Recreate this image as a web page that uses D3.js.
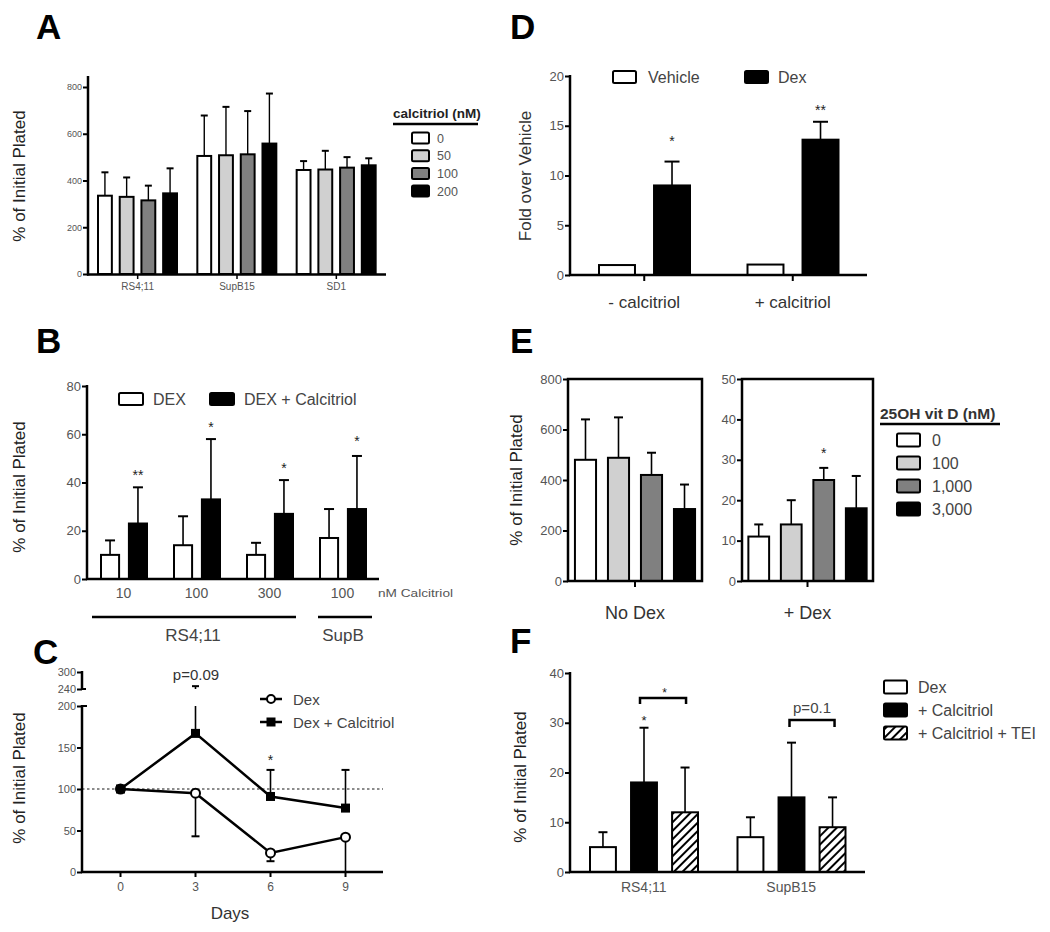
<!DOCTYPE html>
<html><head><meta charset="utf-8">
<script src="https://cdn.jsdelivr.net/npm/d3@7"></script>
<style>
body{margin:0;background:#fff}
svg text{font-family:"Liberation Sans",Arial,sans-serif}
</style></head><body>
<svg id="fig" width="1050" height="932"></svg>
<script>
// ---------- DATA ----------
// Panel A
const aGroups = ["RS4;11", "SupB15", "SD1"];
const aSeries = ["0", "50", "100", "200"];
const aMeans = [[335, 330, 315, 345], [505, 508, 512, 558], [445, 447, 455, 465]];
const aUpper = [[435, 413, 378, 452], [678, 715, 697, 772], [483, 527, 500, 495]];
const aTicks = [0, 200, 400, 600, 800];
// Panel B
const bGroups = ["10", "100", "300", "100"];
const bSeries = ["DEX", "DEX + Calcitriol"];
const bDex = [10, 14, 10, 17];
const bDexUpper = [16, 26, 15, 29];
const bCal = [23, 33, 27, 29];
const bCalUpper = [38, 58, 41, 51];
const bStars = ["**", "*", "*", "*"];
const bStarAt = [44.5, 64.5, 47.5, 58.5];
const bTicks = [0, 20, 40, 60, 80];
// Panel C
const cDays = [0, 3, 6, 9];
const cDex = [100, 95, 23, 42];
const cDexLower = [100, 43, 13, 0];
const cCal = [100, 167, 91, 77];
const cCalUpper = [100, 250, 123, 123];
const cTicksLow = [0, 50, 100, 150, 200];
const cTicksHigh = [240, 300];
// Panel D
const dGroups = ["- calcitriol", "+ calcitriol"];
const dSeries = ["Vehicle", "Dex"];
const dVehicle = [1.0, 1.05];
const dDex = [9.0, 13.6];
const dDexUpper = [11.4, 15.4];
const dStars = ["*", "**"];
const dStarAt = [13.8, 16.9];
const dTicks = [0, 5, 10, 15, 20];
// Panel E
const eSeries = ["0", "100", "1,000", "3,000"];
const eNoDex = [480, 488, 420, 285];
const eNoDexUpper = [640, 648, 508, 382];
const eDex = [11, 14, 25, 18];
const eDexUpper = [14, 20, 28, 26];
const eTicksL = [0, 200, 400, 600, 800];
const eTicksR = [0, 10, 20, 30, 40, 50];
// Panel F
const fGroups = ["RS4;11", "SupB15"];
const fSeries = ["Dex", "+ Calcitriol", "+ Calcitriol + TEI"];
const fMeans = [[5, 18, 12], [7, 15, 9]];
const fUpper = [[8, 29, 21], [11, 26, 15]];
const fTicks = [0, 10, 20, 30, 40];

// ---------- STYLE ----------
const TICKC = "#555";
const TXT = "#222";
const grayFills = ["#ffffff", "#d0d0d0", "#808080", "#000000"];
const svg = d3.select("#fig");
const defs = svg.append("defs");
const pat = defs.append("pattern").attr("id", "hatch").attr("patternUnits", "userSpaceOnUse")
  .attr("width", 6).attr("height", 6).attr("patternTransform", "rotate(45)");
pat.append("rect").attr("width", 6).attr("height", 6).attr("fill", "#fff");
pat.append("line").attr("x1", 1).attr("y1", 0).attr("x2", 1).attr("y2", 6).attr("stroke", "#000").attr("stroke-width", 2);
const fFills = ["#ffffff", "#000000", "url(#hatch)"];

// ---------- HELPERS ----------
function line(x1, y1, x2, y2, w = 2.5, color = "#000") {
  return svg.append("line").attr("x1", x1).attr("y1", y1).attr("x2", x2).attr("y2", y2)
    .attr("stroke", color).attr("stroke-width", w);
}
function text(x, y, s, fs, opts = {}) {
  const t = svg.append("text").attr("x", x).attr("y", y).text(s).attr("font-size", fs)
    .attr("fill", opts.fill || TXT).attr("text-anchor", opts.anchor || "start");
  if (opts.bold) t.attr("font-weight", "bold");
  if (opts.rotate) t.attr("transform", `rotate(-90,${x},${y})`);
  if (opts.len) t.attr("textLength", opts.len).attr("lengthAdjust", "spacingAndGlyphs");
  return t;
}
function leftAxis(scale, x, ticks, fs, fmt) {
  const ax = d3.axisLeft(scale).tickValues(ticks).tickSize(5).tickSizeOuter(0).tickPadding(1);
  if (fmt) ax.tickFormat(fmt);
  const g = svg.append("g").attr("transform", `translate(${x},0)`).call(ax);
  g.select(".domain").remove();
  g.selectAll(".tick line").attr("stroke", "#000").attr("stroke-width", 2);
  g.selectAll(".tick text").attr("font-size", fs).attr("fill", TICKC)
    .attr("font-family", '"Liberation Sans",Arial,sans-serif');
  return g;
}
function bar(x, w, yScale, v, fill) {
  const y0 = yScale(0), y1 = yScale(v);
  svg.append("rect").attr("x", x + 1).attr("y", y1).attr("width", w - 2).attr("height", Math.max(0, y0 - y1))
    .attr("fill", fill).attr("stroke", "#000").attr("stroke-width", 2);
}
function errBar(cx, yFrom, yTo, capW, w = 1.6) {
  line(cx, yFrom, cx, yTo, w);
  line(cx - capW / 2, yTo, cx + capW / 2, yTo, 2);
}
function star(cx, yCenter, s, fs) {
  text(cx, yCenter + fs * 0.58, s, fs, { anchor: "middle" });
}
function legendBox(x, cy, w, h, fill) {
  svg.append("rect").attr("x", x).attr("y", cy - h / 2).attr("width", w).attr("height", h)
    .attr("rx", 1.5).attr("fill", fill).attr("stroke", "#000").attr("stroke-width", 2);
}

// ---------- PANEL LETTERS ----------
[["A", 36, 39], ["B", 36, 353], ["C", 33, 664], ["D", 510, 39], ["E", 510, 353], ["F", 510, 653]]
  .forEach(([l, x, y]) => text(x, y, l, 35, { bold: true, fill: "#000" }));

// ---------- PANEL A ----------
{
  const x = d3.scaleBand().domain(aGroups).range([88, 386]);
  const xi = d3.scaleBand().domain(aSeries).range([9, 90]).paddingInner(0.27);
  const y = d3.scaleLinear().domain([0, 800]).range([274, 87]);
  aGroups.forEach((g, i) => aSeries.forEach((s, j) => {
    const bx = x(g) + xi(s), bw = xi.bandwidth();
    errBar(bx + bw / 2, y(aMeans[i][j]), y(aUpper[i][j]), 7, 1.4);
    bar(bx, bw, y, aMeans[i][j], grayFills[j]);
  }));
  leftAxis(y, 88, aTicks, 9);
  line(88, 76, 88, 275.5, 2.5);
  line(87, 274.5, 386, 274.5, 2.5);
  aGroups.forEach(g => {
    const cx = x(g) + x.bandwidth() / 2;
    line(cx, 274.5, cx, 279, 1.5);
    text(cx, 290, g, 10, { anchor: "middle", fill: TICKC });
  });
  text(25, 176, "% of Initial Plated", 17, { anchor: "middle", rotate: true });
  text(393, 118, "calcitriol (nM)", 13.5, { bold: true });
  line(393, 124, 478, 124, 2.5);
  aSeries.forEach((s, j) => {
    const cy = 138 + j * 17.7;
    legendBox(412, cy, 17, 11, grayFills[j]);
    text(437, cy + 4.5, s, 12.5, { fill: TICKC });
  });
}

// ---------- PANEL B ----------
{
  const x = d3.scaleBand().domain(d3.range(bGroups.length)).range([87, 379]);
  const xi = d3.scaleBand().domain(bSeries).range([13, 61]).paddingInner(0.28);
  const y = d3.scaleLinear().domain([0, 80]).range([579, 386]);
  bGroups.forEach((g, i) => {
    const bw = xi.bandwidth();
    const x0 = x(i) + xi(bSeries[0]), x1 = x(i) + xi(bSeries[1]);
    errBar(x0 + bw / 2, y(bDex[i]), y(bDexUpper[i]), 10);
    bar(x0, bw, y, bDex[i], "#fff");
    errBar(x1 + bw / 2, y(bCal[i]), y(bCalUpper[i]), 10);
    bar(x1, bw, y, bCal[i], "#000");
    star(x1 + bw / 2, y(bStarAt[i]), bStars[i], 14);
    text(x(i) + x.bandwidth() / 2, 598, g, 14, { anchor: "middle", fill: TICKC });
  });
  leftAxis(y, 87, bTicks, 13);
  line(87, 385, 87, 580, 2.5);
  line(86, 579, 379, 579, 2.5);
  text(378, 597, "nM Calcitriol", 11.5, { fill: TICKC, len: 75 });
  line(92, 617, 296, 617, 2.5);
  line(318, 617, 372, 617, 2.5);
  text(193, 641, "RS4;11", 17, { anchor: "middle", fill: "#444" });
  text(343, 641, "SupB", 17, { anchor: "middle", fill: "#444" });
  text(25, 487, "% of Initial Plated", 17, { anchor: "middle", rotate: true });
  legendBox(119, 399, 24, 12, "#fff");
  text(153, 405, bSeries[0], 16, { fill: "#444" });
  legendBox(210, 399, 24, 12, "#000");
  text(244, 405, bSeries[1], 16, { fill: "#444" });
}

// ---------- PANEL C ----------
{
  const x = d3.scaleLinear().domain([-1.5, 10.5]).range([83, 383]);
  const y = d3.scaleLinear().domain([0, 200]).range([872, 706]);
  const yu = d3.scaleLinear().domain([240, 300]).range([689, 672]);
  const yy = v => v > 200 ? yu(Math.max(240, v)) : y(v);
  // reference line at 100
  line(82, y(100), 383, y(100), 1.6, "#666").attr("stroke-dasharray", "2.5,2.5");
  // lines
  const lg = d3.line().x((d, i) => x(cDays[i])).y(d => yy(d));
  svg.append("path").attr("d", lg(cDex)).attr("fill", "none").attr("stroke", "#000").attr("stroke-width", 2.5);
  svg.append("path").attr("d", lg(cCal)).attr("fill", "none").attr("stroke", "#000").attr("stroke-width", 2.5);
  // error bars
  cDays.forEach((d, i) => {
    const cx = x(d);
    if (cDexLower[i] < cDex[i]) errBar(cx, y(cDex[i]), y(cDexLower[i]), 8);
    if (cCalUpper[i] > cCal[i]) {
      if (cCalUpper[i] > 200) {
        line(cx, y(cCal[i]), cx, y(200), 1.6);
        errBar(cx, yu(240), yu(cCalUpper[i]), 7);
      } else errBar(cx, y(cCal[i]), y(cCalUpper[i]), 8);
    }
  });
  // markers
  cDays.forEach((d, i) => {
    svg.append("circle").attr("cx", x(d)).attr("cy", yy(cDex[i])).attr("r", 4.5)
      .attr("fill", "#fff").attr("stroke", "#000").attr("stroke-width", 2);
  });
  cDays.forEach((d, i) => {
    svg.append("rect").attr("x", x(d) - 4.5).attr("y", yy(cCal[i]) - 4.5).attr("width", 9).attr("height", 9).attr("fill", "#000");
  });
  // axes
  leftAxis(y, 82, cTicksLow, 11);
  leftAxis(yu, 82, cTicksHigh, 11);
  line(82, 705, 82, 873, 2.5);
  line(82, 671, 82, 690, 2.5);
  line(82, 689, 86, 689, 2);
  line(82, 706, 87, 706, 2);
  line(81, 872, 383, 872, 2.5);
  cDays.forEach(d => {
    line(x(d), 872, x(d), 877, 2);
    text(x(d), 891, d, 12, { anchor: "middle", fill: TICKC });
  });
  text(230, 919, "Days", 17, { anchor: "middle", fill: "#333" });
  text(25, 778, "% of Initial Plated", 17, { anchor: "middle", rotate: true });
  text(196, 680, "p=0.09", 15, { anchor: "middle", fill: "#333" });
  star(x(6), 757, "*", 14);
  // legend
  line(260, 699, 282, 699, 2.5);
  svg.append("circle").attr("cx", 271).attr("cy", 699).attr("r", 4).attr("fill", "#fff").attr("stroke", "#000").attr("stroke-width", 2);
  text(293, 705, "Dex", 15, { fill: "#444" });
  line(260, 722, 282, 722, 2.5);
  svg.append("rect").attr("x", 266.5).attr("y", 717.5).attr("width", 9).attr("height", 9).attr("fill", "#000");
  text(293, 728, "Dex + Calcitriol", 15, { fill: "#444" });
}

// ---------- PANEL D ----------
{
  const x = d3.scaleBand().domain(dGroups).range([570, 867]);
  const xi = d3.scaleBand().domain(dSeries).range([28, 121]).paddingInner(0.31);
  const y = d3.scaleLinear().domain([0, 20]).range([275, 76]);
  dGroups.forEach((g, i) => {
    const bw = xi.bandwidth();
    const x0 = x(g) + xi(dSeries[0]), x1 = x(g) + xi(dSeries[1]);
    bar(x0, bw, y, dVehicle[i], "#fff");
    errBar(x1 + bw / 2, y(dDex[i]), y(dDexUpper[i]), 15);
    bar(x1, bw, y, dDex[i], "#000");
    star(x1 + bw / 2, y(dStarAt[i]), dStars[i], 14);
    const cx = x(g) + x.bandwidth() / 2;
    line(cx, 275, cx, 281, 2);
    text(cx, 308, g, 17, { anchor: "middle", fill: "#333" });
  });
  leftAxis(y, 570, dTicks, 13);
  line(570, 75, 570, 276, 2.5);
  line(569, 275, 867, 275, 2.5);
  text(531, 176, "Fold over Vehicle", 17, { anchor: "middle", rotate: true, fill: "#333" });
  legendBox(613, 77, 23, 12, "#fff");
  text(648, 83, dSeries[0], 16, { fill: "#444" });
  legendBox(745, 77, 23, 12, "#000");
  text(778, 83, dSeries[1], 16, { fill: "#444" });
}

// ---------- PANEL E ----------
{
  const yL = d3.scaleLinear().domain([0, 800]).range([581, 379]);
  const yR = d3.scaleLinear().domain([0, 50]).range([581, 379]);
  const xL = d3.scaleBand().domain(eSeries).range([568, 702]).paddingInner(0.3).paddingOuter(0.18);
  const xR = d3.scaleBand().domain(eSeries).range([742, 873]).paddingInner(0.3).paddingOuter(0.165);
  eSeries.forEach((s, j) => {
    const bw = xL.bandwidth();
    errBar(xL(s) + bw / 2, yL(eNoDex[j]), yL(eNoDexUpper[j]), 9);
    bar(xL(s), bw, yL, eNoDex[j], grayFills[j]);
    const bw2 = xR.bandwidth();
    errBar(xR(s) + bw2 / 2, yR(eDex[j]), yR(eDexUpper[j]), 9);
    bar(xR(s), bw2, yR, eDex[j], grayFills[j]);
  });
  star(xR(eSeries[2]) + xR.bandwidth() / 2, 450, "*", 14);
  [[568, 702, yL, eTicksL, "No Dex"], [742, 873, yR, eTicksR, "+ Dex"]].forEach(([a, b, ys, tk, lab]) => {
    svg.append("rect").attr("x", a).attr("y", 379).attr("width", b - a).attr("height", 202)
      .attr("fill", "none").attr("stroke", "#000").attr("stroke-width", 2.5);
    leftAxis(ys, a, tk, 13);
    const cx = (a + b) / 2;
    line(cx, 581, cx, 587, 2);
    text(cx, 619, lab, 18, { anchor: "middle", fill: "#333" });
  });
  text(522, 480, "% of Initial Plated", 17, { anchor: "middle", rotate: true });
  text(880, 419, "25OH vit D (nM)", 15.5, { bold: true, fill: "#333" });
  line(880, 424, 1000, 424, 2.5);
  eSeries.forEach((s, j) => {
    const cy = 440 + j * 23;
    legendBox(897, cy, 23, 13, grayFills[j]);
    text(932, cy + 6, s, 16, { fill: "#444" });
  });
}

// ---------- PANEL F ----------
{
  const x = d3.scaleBand().domain(fGroups).range([570, 865]);
  const xi = d3.scaleBand().domain(fSeries).range([19, 129]).paddingInner(0.32);
  const y = d3.scaleLinear().domain([0, 40]).range([872, 673]);
  fGroups.forEach((g, i) => fSeries.forEach((s, j) => {
    const bx = x(g) + xi(s), bw = xi.bandwidth();
    errBar(bx + bw / 2, y(fMeans[i][j]), y(fUpper[i][j]), 9);
    bar(bx, bw, y, fMeans[i][j], fFills[j]);
  }));
  fGroups.forEach(g => text(x(g) + x.bandwidth() / 2, 892, g, 14, { anchor: "middle", fill: TICKC }));
  leftAxis(y, 570, fTicks, 13);
  line(570, 672, 570, 873, 2.5);
  line(569, 872, 865, 872, 2.5);
  const bc = (g, j) => x(g) + xi(fSeries[j]) + xi.bandwidth() / 2;
  // stars & brackets
  star(bc(fGroups[0], 1), 717, "*", 13);
  const bracket = (x1, x2, top, leg) => svg.append("path")
    .attr("d", `M${x1},${top + leg}V${top}H${x2}V${top + leg}`).attr("fill", "none").attr("stroke", "#000").attr("stroke-width", 2.5);
  bracket(bc(fGroups[0], 1) - 4, bc(fGroups[0], 2) + 1, 698, 6);
  star((bc(fGroups[0], 1) + bc(fGroups[0], 2)) / 2, 690, "*", 12);
  bracket(bc(fGroups[1], 1) - 2, bc(fGroups[1], 2) + 2, 720, 7);
  text((bc(fGroups[1], 1) + bc(fGroups[1], 2)) / 2, 713, "p=0.1", 15, { anchor: "middle", fill: "#444" });
  text(526, 777, "% of Initial Plated", 17, { anchor: "middle", rotate: true });
  fSeries.forEach((s, j) => {
    const cy = 687 + j * 23;
    legendBox(884, cy, 23, 13, fFills[j]);
    text(918, cy + 6, s, 16, { fill: "#444" });
  });
}
</script></body></html>
